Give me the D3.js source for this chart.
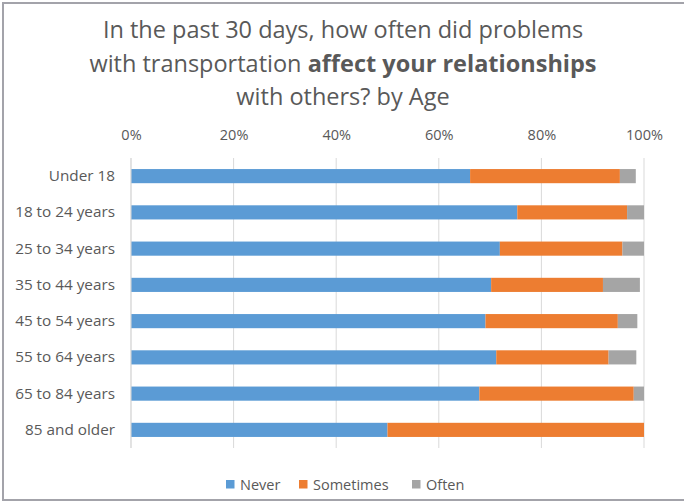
<!DOCTYPE html>
<html>
<head>
<meta charset="utf-8">
<script src="https://cdn.jsdelivr.net/npm/d3@7"></script>
<style>
  html, body { margin: 0; padding: 0; background: #fff; }
  svg { display: block; }
  text { font-family: "Open Sans", "Liberation Sans", sans-serif; fill: #595959; }
</style>
</head>
<body>
<script>
const categories = ["Under 18", "18 to 24 years", "25 to 34 years", "35 to 44 years",
                    "45 to 54 years", "55 to 64 years", "65 to 84 years", "85 and older"];
const seriesNames = ["Never", "Sometimes", "Often"];
const never     = [66.1, 75.3, 71.9, 70.2, 69.1, 71.2, 67.9, 50.0];
const sometimes = [29.2, 21.4, 23.9, 21.8, 25.8, 21.9, 30.1, 50.0];
const often     = [3.1, 3.3, 4.2, 7.2, 3.8, 5.4, 2.0, 0.0];
const tickValues = [0, 20, 40, 60, 80, 100];
const colors = ["#5b9bd5", "#ed7d31", "#a5a5a5"];

const W = 684, H = 504;
const svg = d3.select("body").append("svg").attr("width", W).attr("height", H);

// outer border
svg.append("rect").attr("x", 3).attr("y", 3).attr("width", 700).attr("height", 497)
  .attr("fill", "none").attr("stroke", "#a3a3aa").attr("stroke-width", 2);

// title
const title = svg.append("text").attr("text-anchor", "middle").style("font-size", "23.5px");
title.append("tspan").attr("x", 343).attr("y", 38).text("In the past 30 days, how often did problems");
const l2 = title.append("tspan").attr("x", 343).attr("y", 72);
l2.append("tspan").text("with transportation ");
l2.append("tspan").style("font-weight", "bold").text("affect your relationships");
title.append("tspan").attr("x", 343).attr("y", 105).text("with others? by Age");

const x = d3.scaleLinear().domain([0, 100]).range([131, 644]);
const y = d3.scaleBand().domain(categories).range([158, 448]).paddingInner(0.61).paddingOuter(0.305);

// gridlines
svg.append("g").selectAll("line").data(tickValues).join("line")
  .attr("x1", d => x(d)).attr("x2", d => x(d))
  .attr("y1", 158).attr("y2", 448)
  .attr("stroke", "#d9d9d9").attr("stroke-width", 1);

// top axis labels
const xAxis = d3.axisTop(x).tickValues(tickValues).tickFormat(d => d + "%").tickSize(0).tickPadding(0);
const gx = svg.append("g").attr("transform", "translate(0,140)").call(xAxis);
gx.select(".domain").remove();
gx.selectAll("text").attr("dy", 0).style("font-size", "14.5px").attr("fill", "#595959")
  .style("font-family", "'Open Sans', sans-serif");

// y labels
const yAxis = d3.axisLeft(y).tickSize(0).tickPadding(0);
const gy = svg.append("g").attr("transform", "translate(115,0)").call(yAxis);
gy.select(".domain").remove();
gy.selectAll("text").style("font-size", "15.3px").attr("fill", "#595959")
  .style("font-family", "'Open Sans', sans-serif");

// stacked bars
const rows = categories.map((c, i) => ({ cat: c, Never: never[i], Sometimes: sometimes[i], Often: often[i] }));
const stacked = d3.stack().keys(seriesNames)(rows);
svg.append("g").selectAll("g").data(stacked).join("g")
  .attr("fill", (d, i) => colors[i])
  .selectAll("rect").data(d => d).join("rect")
  .attr("x", d => x(d[0]))
  .attr("width", d => Math.max(0, x(d[1]) - x(d[0])))
  .attr("y", d => y(d.data.cat))
  .attr("height", y.bandwidth());

// y axis line
svg.append("line").attr("x1", x(0)).attr("x2", x(0)).attr("y1", 158).attr("y2", 448)
  .attr("stroke", "#d9d9d9").attr("stroke-width", 1);

// legend
const legX = [226, 299, 412];
const lg = svg.append("g").selectAll("g").data(seriesNames).join("g")
  .attr("transform", (d, i) => `translate(${legX[i]},480)`);
lg.append("rect").attr("width", 8.5).attr("height", 8.5).attr("fill", (d, i) => colors[i]);
lg.append("text").attr("x", 14).attr("y", 10).style("font-size", "14.5px").text(d => d);
</script>
</body>
</html>
